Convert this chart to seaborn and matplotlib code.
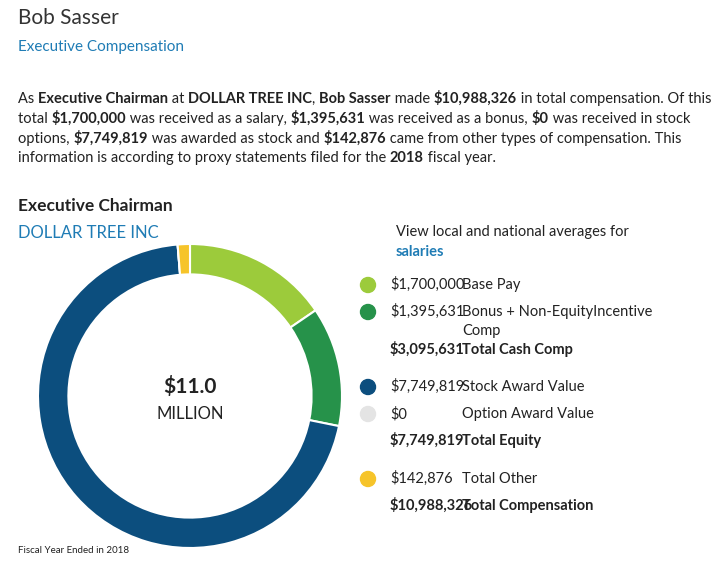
import matplotlib
matplotlib.use("Agg")
import matplotlib.pyplot as plt
import seaborn as sns

sns.set_theme(style="white")
plt.rcParams["font.family"] = "Lato"

labels = ["Base Pay", "Bonus + Non-Equity Incentive Comp", "Stock Award Value",
          "Option Award Value", "Total Other"]
values = [1700000, 1395631, 7749819, 0, 142876]
colors = ["#9ccb3b", "#26924a", "#0c4e7e", "#e4e4e4", "#f6c42a"]

W, H = 714, 564
fig = plt.figure(figsize=(W / 100, H / 100), dpi=100)
fig.patch.set_facecolor("white")
blue = "#1f7cb5"
dark = "#222222"
FS = 10.5


def runs(x, y, parts, size=FS):
    # draw text pieces side by side, bold where flagged
    r = fig.canvas.get_renderer()
    for txt, bold in parts:
        t = fig.text(x / W, 1 - y / H, txt, fontsize=size, color=dark,
                     fontweight="bold" if bold else "normal", va="baseline")
        x += t.get_window_extent(r).width
    return x


fig.text(18 / W, 1 - 24 / H, "Bob Sasser", fontsize=15, color="#333333", va="baseline")
fig.text(18 / W, 1 - 51 / H, "Executive Compensation", fontsize=11, color=blue, va="baseline")

runs(18, 103, [("As ", 0), ("Executive Chairman", 1), (" at ", 0), ("DOLLAR TREE INC", 1),
               (", ", 0), ("Bob Sasser", 1), (" made ", 0), ("$10,988,326", 1),
               (" in total compensation. Of this", 0)])
runs(18, 123, [("total ", 0), ("$1,700,000", 1), (" was received as a salary, ", 0),
               ("$1,395,631", 1), (" was received as a bonus, ", 0), ("$0", 1),
               (" was received in stock", 0)])
runs(18, 143, [("options, ", 0), ("$7,749,819", 1), (" was awarded as stock and ", 0),
               ("$142,876", 1), (" came from other types of compensation. This", 0)])
runs(18, 162, [("information is according to proxy statements filed for the ", 0),
               ("2018", 1), (" fiscal year.", 0)])

fig.text(18 / W, 1 - 211 / H, "Executive Chairman", fontsize=12.5, fontweight="bold",
         color=dark, va="baseline")
fig.text(18 / W, 1 - 238 / H, "DOLLAR TREE INC", fontsize=12, color=blue, va="baseline")

# donut
R = 152
ax = fig.add_axes([(190 - R) / W, 1 - (396 + R) / H, 2 * R / W, 2 * R / H])
ax.pie(values, colors=colors, startangle=90, counterclock=False,
       wedgeprops=dict(width=0.2, edgecolor="white", linewidth=1.5))
ax.set_xlim(-1, 1)
ax.set_ylim(-1, 1)
ax.set_aspect("equal")
ax.text(0, 0.06, "$11.0", ha="center", va="center", fontsize=15, fontweight="bold", color=dark)
ax.text(0, -0.12, "MILLION", ha="center", va="center", fontsize=12, color=dark)

fig.text(396 / W, 1 - 236 / H, "View local and national averages for", fontsize=FS,
         color=dark, va="baseline")
fig.text(396 / W, 1 - 256 / H, "salaries", fontsize=FS, color=blue, fontweight="bold",
         va="baseline")

amounts = ["$1,700,000", "$1,395,631", "$7,749,819", "$0", "$142,876"]
ys = [289, 316, 391, 418, 483]
names = ["Base Pay", "Bonus + Non-EquityIncentive\nComp", "Stock Award Value",
         "Option Award Value", "Total Other"]
for c, a, n, y in zip(colors, amounts, names, ys):
    fig.patches.append(matplotlib.patches.Ellipse((368 / W, 1 - (y - 4) / H), 15 / W, 15 / H,
                                                  transform=fig.transFigure, color=c))
    fig.text(390 / W, 1 - y / H, a, fontsize=FS, color=dark, va="baseline")
    fig.text(462 / W, 1 - y / H, n.split("\n")[0], fontsize=FS, color=dark, va="baseline")
    if "\n" in n:
        fig.text(462 / W, 1 - (y + 19) / H, n.split("\n")[1], fontsize=FS, color=dark,
                 va="baseline")

totals = [("$3,095,631", "Total Cash Comp", 354), ("$7,749,819", "Total Equity", 445),
          ("$10,988,326", "Total Compensation", 510)]
for a, n, y in totals:
    fig.text(390 / W, 1 - y / H, a, fontsize=FS, fontweight="bold", color=dark, va="baseline")
    fig.text(462 / W, 1 - y / H, n, fontsize=FS, fontweight="bold", color=dark, va="baseline")

fig.text(18 / W, 1 - 553 / H, "Fiscal Year Ended in 2018", fontsize=7, color=dark,
         va="baseline")

fig.savefig("out.png", dpi=100, facecolor="white")
